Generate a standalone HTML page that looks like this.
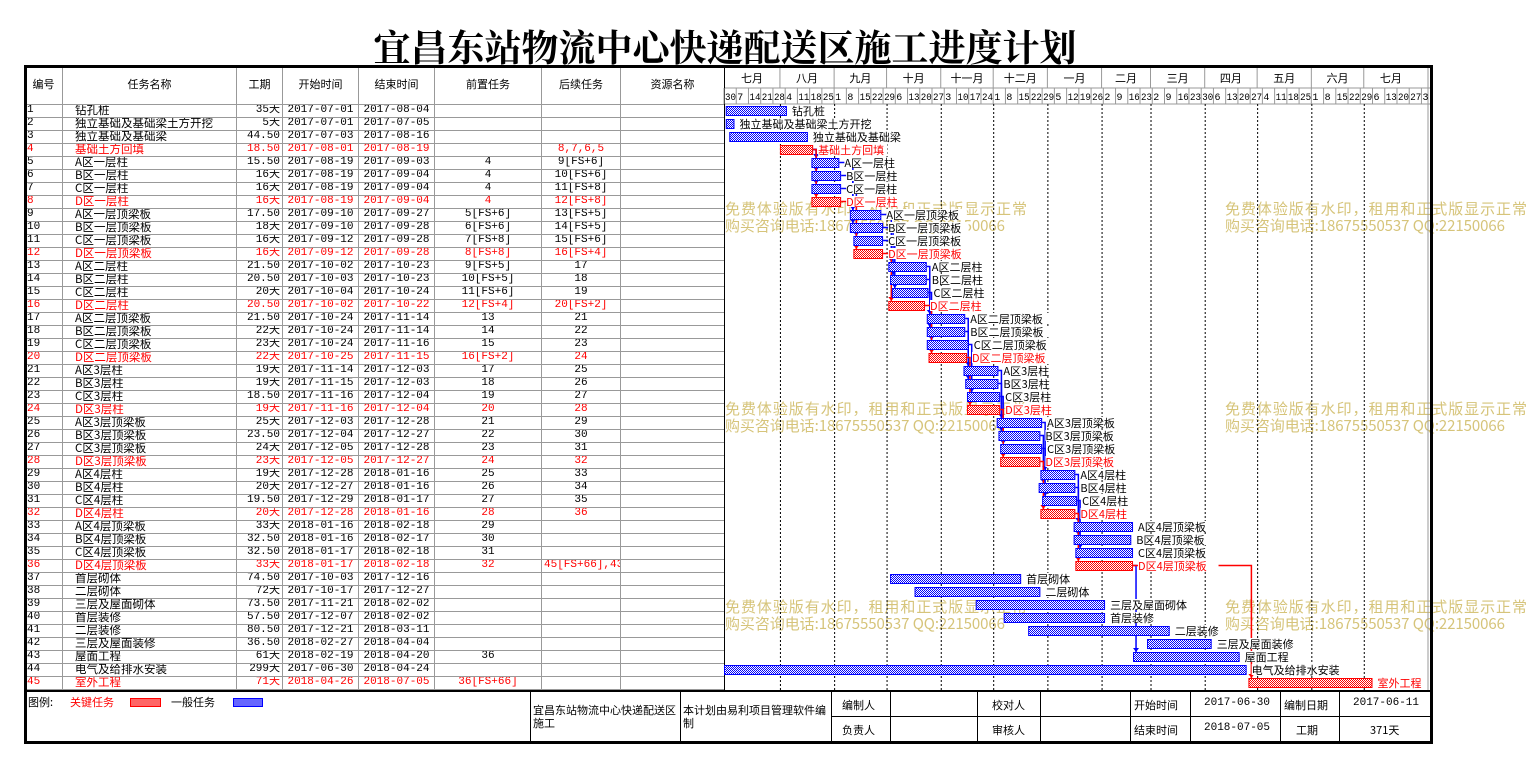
<!DOCTYPE html>
<html><head><meta charset="utf-8">
<style>
*{margin:0;padding:0;box-sizing:border-box}
body{width:1528px;height:766px;background:#fff;position:relative;overflow:hidden;font-family:"Liberation Mono","Noto Sans CJK SC",monospace;font-size:11px;color:#000}
#title{position:absolute;left:0;width:1450px;top:18px;text-align:center;font-family:"Liberation Serif","Noto Serif CJK SC",serif;font-weight:bold;font-size:37px}
#frame{position:absolute;left:24px;top:65px;width:1409px;height:679px;border:3px solid #000}
table#t{position:absolute;left:24px;top:66px;width:700px;border-collapse:collapse;table-layout:fixed}
#t td{border:1px solid #999;height:13px;line-height:11px;padding:0 2px;white-space:nowrap;overflow:hidden;font-size:11px;vertical-align:middle}
#t tr.h td{height:38px;text-align:center;font-family:"Noto Sans CJK SC",sans-serif;font-size:11px;border-top:none}
#t td.n{padding-left:12px;font-family:"Noto Sans CJK SC",sans-serif;font-size:11.5px;line-height:11px}
#t td.c{text-align:center}
#t td.r{text-align:right}
#t tr.red td{color:#f00}
svg{position:absolute;left:0;top:0}
#foot{position:absolute;left:24px;top:690px;width:1408px;height:52px;border-top:2px solid #000;font-family:"Noto Sans CJK SC",sans-serif;font-size:11px}
.f{position:absolute;border-left:1px solid #000;}
.fh{position:absolute;border-top:1px solid #000}
.ft{position:absolute;white-space:nowrap}
</style></head><body>
<div id="title">宜昌东站物流中心快递配送区施工进度计划</div>
<table id="t">
<colgroup><col style="width:38px"><col style="width:174px"><col style="width:46px"><col style="width:76px"><col style="width:76px"><col style="width:107px"><col style="width:79px"><col style="width:104px"></colgroup>
<tr class="h"><td>编号</td><td>任务名称</td><td>工期</td><td>开始时间</td><td>结束时间</td><td>前置任务</td><td>后续任务</td><td>资源名称</td></tr>
<tr><td>1</td><td class="n">钻孔桩</td><td class="r">35天</td><td class="c">2017-07-01</td><td class="c">2017-08-04</td><td class="c"></td><td class="c"></td><td></td></tr>
<tr><td>2</td><td class="n">独立基础及基础梁土方开挖</td><td class="r">5天</td><td class="c">2017-07-01</td><td class="c">2017-07-05</td><td class="c"></td><td class="c"></td><td></td></tr>
<tr><td>3</td><td class="n">独立基础及基础梁</td><td class="r">44.50</td><td class="c">2017-07-03</td><td class="c">2017-08-16</td><td class="c"></td><td class="c"></td><td></td></tr>
<tr class="red"><td>4</td><td class="n">基础土方回填</td><td class="r">18.50</td><td class="c">2017-08-01</td><td class="c">2017-08-19</td><td class="c"></td><td class="c">8,7,6,5</td><td></td></tr>
<tr><td>5</td><td class="n">A区一层柱</td><td class="r">15.50</td><td class="c">2017-08-19</td><td class="c">2017-09-03</td><td class="c">4</td><td class="c">9[FS+6]</td><td></td></tr>
<tr><td>6</td><td class="n">B区一层柱</td><td class="r">16天</td><td class="c">2017-08-19</td><td class="c">2017-09-04</td><td class="c">4</td><td class="c">10[FS+6]</td><td></td></tr>
<tr><td>7</td><td class="n">C区一层柱</td><td class="r">16天</td><td class="c">2017-08-19</td><td class="c">2017-09-04</td><td class="c">4</td><td class="c">11[FS+8]</td><td></td></tr>
<tr class="red"><td>8</td><td class="n">D区一层柱</td><td class="r">16天</td><td class="c">2017-08-19</td><td class="c">2017-09-04</td><td class="c">4</td><td class="c">12[FS+8]</td><td></td></tr>
<tr><td>9</td><td class="n">A区一层顶梁板</td><td class="r">17.50</td><td class="c">2017-09-10</td><td class="c">2017-09-27</td><td class="c">5[FS+6]</td><td class="c">13[FS+5]</td><td></td></tr>
<tr><td>10</td><td class="n">B区一层顶梁板</td><td class="r">18天</td><td class="c">2017-09-10</td><td class="c">2017-09-28</td><td class="c">6[FS+6]</td><td class="c">14[FS+5]</td><td></td></tr>
<tr><td>11</td><td class="n">C区一层顶梁板</td><td class="r">16天</td><td class="c">2017-09-12</td><td class="c">2017-09-28</td><td class="c">7[FS+8]</td><td class="c">15[FS+6]</td><td></td></tr>
<tr class="red"><td>12</td><td class="n">D区一层顶梁板</td><td class="r">16天</td><td class="c">2017-09-12</td><td class="c">2017-09-28</td><td class="c">8[FS+8]</td><td class="c">16[FS+4]</td><td></td></tr>
<tr><td>13</td><td class="n">A区二层柱</td><td class="r">21.50</td><td class="c">2017-10-02</td><td class="c">2017-10-23</td><td class="c">9[FS+5]</td><td class="c">17</td><td></td></tr>
<tr><td>14</td><td class="n">B区二层柱</td><td class="r">20.50</td><td class="c">2017-10-03</td><td class="c">2017-10-23</td><td class="c">10[FS+5]</td><td class="c">18</td><td></td></tr>
<tr><td>15</td><td class="n">C区二层柱</td><td class="r">20天</td><td class="c">2017-10-04</td><td class="c">2017-10-24</td><td class="c">11[FS+6]</td><td class="c">19</td><td></td></tr>
<tr class="red"><td>16</td><td class="n">D区二层柱</td><td class="r">20.50</td><td class="c">2017-10-02</td><td class="c">2017-10-22</td><td class="c">12[FS+4]</td><td class="c">20[FS+2]</td><td></td></tr>
<tr><td>17</td><td class="n">A区二层顶梁板</td><td class="r">21.50</td><td class="c">2017-10-24</td><td class="c">2017-11-14</td><td class="c">13</td><td class="c">21</td><td></td></tr>
<tr><td>18</td><td class="n">B区二层顶梁板</td><td class="r">22天</td><td class="c">2017-10-24</td><td class="c">2017-11-14</td><td class="c">14</td><td class="c">22</td><td></td></tr>
<tr><td>19</td><td class="n">C区二层顶梁板</td><td class="r">23天</td><td class="c">2017-10-24</td><td class="c">2017-11-16</td><td class="c">15</td><td class="c">23</td><td></td></tr>
<tr class="red"><td>20</td><td class="n">D区二层顶梁板</td><td class="r">22天</td><td class="c">2017-10-25</td><td class="c">2017-11-15</td><td class="c">16[FS+2]</td><td class="c">24</td><td></td></tr>
<tr><td>21</td><td class="n">A区3层柱</td><td class="r">19天</td><td class="c">2017-11-14</td><td class="c">2017-12-03</td><td class="c">17</td><td class="c">25</td><td></td></tr>
<tr><td>22</td><td class="n">B区3层柱</td><td class="r">19天</td><td class="c">2017-11-15</td><td class="c">2017-12-03</td><td class="c">18</td><td class="c">26</td><td></td></tr>
<tr><td>23</td><td class="n">C区3层柱</td><td class="r">18.50</td><td class="c">2017-11-16</td><td class="c">2017-12-04</td><td class="c">19</td><td class="c">27</td><td></td></tr>
<tr class="red"><td>24</td><td class="n">D区3层柱</td><td class="r">19天</td><td class="c">2017-11-16</td><td class="c">2017-12-04</td><td class="c">20</td><td class="c">28</td><td></td></tr>
<tr><td>25</td><td class="n">A区3层顶梁板</td><td class="r">25天</td><td class="c">2017-12-03</td><td class="c">2017-12-28</td><td class="c">21</td><td class="c">29</td><td></td></tr>
<tr><td>26</td><td class="n">B区3层顶梁板</td><td class="r">23.50</td><td class="c">2017-12-04</td><td class="c">2017-12-27</td><td class="c">22</td><td class="c">30</td><td></td></tr>
<tr><td>27</td><td class="n">C区3层顶梁板</td><td class="r">24天</td><td class="c">2017-12-05</td><td class="c">2017-12-28</td><td class="c">23</td><td class="c">31</td><td></td></tr>
<tr class="red"><td>28</td><td class="n">D区3层顶梁板</td><td class="r">23天</td><td class="c">2017-12-05</td><td class="c">2017-12-27</td><td class="c">24</td><td class="c">32</td><td></td></tr>
<tr><td>29</td><td class="n">A区4层柱</td><td class="r">19天</td><td class="c">2017-12-28</td><td class="c">2018-01-16</td><td class="c">25</td><td class="c">33</td><td></td></tr>
<tr><td>30</td><td class="n">B区4层柱</td><td class="r">20天</td><td class="c">2017-12-27</td><td class="c">2018-01-16</td><td class="c">26</td><td class="c">34</td><td></td></tr>
<tr><td>31</td><td class="n">C区4层柱</td><td class="r">19.50</td><td class="c">2017-12-29</td><td class="c">2018-01-17</td><td class="c">27</td><td class="c">35</td><td></td></tr>
<tr class="red"><td>32</td><td class="n">D区4层柱</td><td class="r">20天</td><td class="c">2017-12-28</td><td class="c">2018-01-16</td><td class="c">28</td><td class="c">36</td><td></td></tr>
<tr><td>33</td><td class="n">A区4层顶梁板</td><td class="r">33天</td><td class="c">2018-01-16</td><td class="c">2018-02-18</td><td class="c">29</td><td class="c"></td><td></td></tr>
<tr><td>34</td><td class="n">B区4层顶梁板</td><td class="r">32.50</td><td class="c">2018-01-16</td><td class="c">2018-02-17</td><td class="c">30</td><td class="c"></td><td></td></tr>
<tr><td>35</td><td class="n">C区4层顶梁板</td><td class="r">32.50</td><td class="c">2018-01-17</td><td class="c">2018-02-18</td><td class="c">31</td><td class="c"></td><td></td></tr>
<tr class="red"><td>36</td><td class="n">D区4层顶梁板</td><td class="r">33天</td><td class="c">2018-01-17</td><td class="c">2018-02-18</td><td class="c">32</td><td class="c">45[FS+66],43</td><td></td></tr>
<tr><td>37</td><td class="n">首层砌体</td><td class="r">74.50</td><td class="c">2017-10-03</td><td class="c">2017-12-16</td><td class="c"></td><td class="c"></td><td></td></tr>
<tr><td>38</td><td class="n">二层砌体</td><td class="r">72天</td><td class="c">2017-10-17</td><td class="c">2017-12-27</td><td class="c"></td><td class="c"></td><td></td></tr>
<tr><td>39</td><td class="n">三层及屋面砌体</td><td class="r">73.50</td><td class="c">2017-11-21</td><td class="c">2018-02-02</td><td class="c"></td><td class="c"></td><td></td></tr>
<tr><td>40</td><td class="n">首层装修</td><td class="r">57.50</td><td class="c">2017-12-07</td><td class="c">2018-02-02</td><td class="c"></td><td class="c"></td><td></td></tr>
<tr><td>41</td><td class="n">二层装修</td><td class="r">80.50</td><td class="c">2017-12-21</td><td class="c">2018-03-11</td><td class="c"></td><td class="c"></td><td></td></tr>
<tr><td>42</td><td class="n">三层及屋面装修</td><td class="r">36.50</td><td class="c">2018-02-27</td><td class="c">2018-04-04</td><td class="c"></td><td class="c"></td><td></td></tr>
<tr><td>43</td><td class="n">屋面工程</td><td class="r">61天</td><td class="c">2018-02-19</td><td class="c">2018-04-20</td><td class="c">36</td><td class="c"></td><td></td></tr>
<tr><td>44</td><td class="n">电气及给排水安装</td><td class="r">299天</td><td class="c">2017-06-30</td><td class="c">2018-04-24</td><td class="c"></td><td class="c"></td><td></td></tr>
<tr class="red"><td>45</td><td class="n">室外工程</td><td class="r">71天</td><td class="c">2018-04-26</td><td class="c">2018-07-05</td><td class="c">36[FS+66]</td><td class="c"></td><td></td></tr>
</table>
<svg id="g" width="1528" height="766" xmlns="http://www.w3.org/2000/svg" font-family="Noto Sans CJK SC, sans-serif">
<defs>
<pattern id="pb" width="2" height="2" patternUnits="userSpaceOnUse"><rect width="2" height="2" fill="#fff"/><rect width="1" height="1" fill="#00f"/><rect x="1" y="1" width="1" height="1" fill="#00f"/></pattern>
<pattern id="pr" width="2" height="2" patternUnits="userSpaceOnUse"><rect width="2" height="2" fill="#fff"/><rect width="1" height="1" fill="#f00"/><rect x="1" y="1" width="1" height="1" fill="#f00"/></pattern>
</defs>
<g fill="#d6c47a" font-size="15" lengthAdjust="spacingAndGlyphs">
<text x="725" y="214" textLength="302">免费体验版有水印，租用和正式版显示正常</text><text x="725" y="231" textLength="280">购买咨询电话:18675550537 QQ:22150066</text>
<text x="1225" y="214" textLength="302">免费体验版有水印，租用和正式版显示正常</text><text x="1225" y="231" textLength="280">购买咨询电话:18675550537 QQ:22150066</text>
<text x="725" y="414" textLength="302">免费体验版有水印，租用和正式版显示正常</text><text x="725" y="431" textLength="280">购买咨询电话:18675550537 QQ:22150066</text>
<text x="1225" y="414" textLength="302">免费体验版有水印，租用和正式版显示正常</text><text x="1225" y="431" textLength="280">购买咨询电话:18675550537 QQ:22150066</text>
<text x="725" y="612" textLength="302">免费体验版有水印，租用和正式版显示正常</text><text x="725" y="629" textLength="280">购买咨询电话:18675550537 QQ:22150066</text>
<text x="1225" y="612" textLength="302">免费体验版有水印，租用和正式版显示正常</text><text x="1225" y="629" textLength="280">购买咨询电话:18675550537 QQ:22150066</text>
</g>
<g id="grid"></g><g id="links"></g><g id="bars"></g>
</svg>
<div id="frame"></div>
<div id="foot">
<div class="ft" style="left:4px;top:2px">图例:</div>
<div class="ft" style="left:46px;top:2px;color:#f00">关键任务</div>
<div style="position:absolute;left:106px;top:6px;width:31px;height:9px;border:1px solid #f00;background:#f66"></div>
<div class="ft" style="left:147px;top:2px">一般任务</div>
<div style="position:absolute;left:209px;top:6px;width:30px;height:9px;border:1px solid #00f;background:#66f"></div>
<div class="f" style="left:506px;top:0;height:50px"></div>
<div class="f" style="left:656px;top:0;height:50px"></div>
<div class="f" style="left:807px;top:0;height:50px"></div>
<div class="f" style="left:866px;top:0;height:50px"></div>
<div class="f" style="left:953px;top:0;height:50px"></div>
<div class="f" style="left:1016px;top:0;height:50px"></div>
<div class="f" style="left:1106px;top:0;height:50px"></div>
<div class="f" style="left:1166px;top:0;height:50px"></div>
<div class="f" style="left:1256px;top:0;height:50px"></div>
<div class="f" style="left:1315px;top:0;height:50px"></div>
<div class="fh" style="left:807px;top:24px;width:601px"></div>
<div class="ft" style="left:509px;top:12px;line-height:13px;white-space:normal;width:146px">宜昌东站物流中心快递配送区施工</div>
<div class="ft" style="left:659px;top:12px;line-height:13px;white-space:normal;width:146px">本计划由易利项目管理软件编制</div>
<div class="ft" style="left:818px;top:5px">编制人</div>
<div class="ft" style="left:968px;top:5px">校对人</div>
<div class="ft" style="left:1110px;top:5px">开始时间</div>
<div class="ft" style="left:1180px;top:5px;font-family:'Liberation Mono',monospace">2017-06-30</div>
<div class="ft" style="left:1260px;top:5px">编制日期</div>
<div class="ft" style="left:1329px;top:5px;font-family:'Liberation Mono',monospace">2017-06-11</div>
<div class="ft" style="left:818px;top:30px">负责人</div>
<div class="ft" style="left:968px;top:30px">审核人</div>
<div class="ft" style="left:1110px;top:30px">结束时间</div>
<div class="ft" style="left:1180px;top:30px;font-family:'Liberation Mono',monospace">2018-07-05</div>
<div class="ft" style="left:1272px;top:30px">工期</div>
<div class="ft" style="left:1346px;top:30px">371天</div>
</div>
<script>
(function(){
var NS="http://www.w3.org/2000/svg";
function el(p,t,a,txt){var e=document.createElementNS(NS,t);for(var k in a)e.setAttribute(k,a[k]);if(txt!=null)e.textContent=txt;p.appendChild(e);return e;}
var X0=724,PX=1.748,base=Date.UTC(2017,5,30);
function dx(s){var p=s.split('-');return X0+(Date.UTC(+p[0],p[1]-1,+p[2])-base)/864e5*PX;}
var grid=document.getElementById('grid');
var months=["七月","八月","九月","十月","十一月","十二月","一月","二月","三月","四月","五月","六月","七月"];
var mstarts=["2017-06-30","2017-08-01","2017-09-01","2017-10-01","2017-11-01","2017-12-01","2018-01-01","2018-02-01","2018-03-01","2018-04-01","2018-05-01","2018-06-01","2018-07-01","2018-08-01"];
el(grid,'line',{x1:724,y1:88,x2:1432,y2:88,stroke:'#999'});
el(grid,'line',{x1:724,y1:104,x2:1432,y2:104,stroke:'#999'});
el(grid,'line',{x1:724.5,y1:66,x2:724.5,y2:690,stroke:'#000'});
el(grid,'line',{x1:1428,y1:66,x2:1428,y2:690,stroke:'#999'});
for(var i=0;i<13;i++){var a=dx(mstarts[i]),b=dx(mstarts[i+1]);
 if(i>0){el(grid,'line',{x1:a,y1:66,x2:a,y2:88,stroke:'#999'});el(grid,'line',{x1:a+.5,y1:104,x2:a+.5,y2:690,stroke:'#000','stroke-dasharray':'2,2'});}
 el(grid,'text',{x:(a+Math.min(b,1428))/2,y:82,'font-size':11,'text-anchor':'middle'},months[i]);}
for(var k=0;k<58;k++){var dt=new Date(base+k*7*864e5);var x=X0+k*7*PX;if(x>1428)break;
 el(grid,'line',{x1:x,y1:88,x2:x,y2:104,stroke:'#999'});
 var dd=dt.getUTCDate();
 el(grid,'text',{x:x+1,y:100,'font-size':10.5,'font-family':'Liberation Mono, monospace','textLength':(dd>9?11:6),'lengthAdjust':'spacingAndGlyphs'},String(dd));}
var T=[["钻孔桩","2017-07-01","2017-08-04",0,0],["独立基础及基础梁土方开挖","2017-07-01","2017-07-05",0,0],["独立基础及基础梁","2017-07-03","2017-08-16",0,0],["基础土方回填","2017-08-01","2017-08-19",0,1],
["A区一层柱","2017-08-19","2017-09-03",4,0],["B区一层柱","2017-08-19","2017-09-04",4,0],["C区一层柱","2017-08-19","2017-09-04",4,0],["D区一层柱","2017-08-19","2017-09-04",4,1],
["A区一层顶梁板","2017-09-10","2017-09-27",5,0],["B区一层顶梁板","2017-09-10","2017-09-28",6,0],["C区一层顶梁板","2017-09-12","2017-09-28",7,0],["D区一层顶梁板","2017-09-12","2017-09-28",8,1],
["A区二层柱","2017-10-02","2017-10-23",9,0],["B区二层柱","2017-10-03","2017-10-23",10,0],["C区二层柱","2017-10-04","2017-10-24",11,0],["D区二层柱","2017-10-02","2017-10-22",12,1],
["A区二层顶梁板","2017-10-24","2017-11-14",13,0],["B区二层顶梁板","2017-10-24","2017-11-14",14,0],["C区二层顶梁板","2017-10-24","2017-11-16",15,0],["D区二层顶梁板","2017-10-25","2017-11-15",16,1],
["A区3层柱","2017-11-14","2017-12-03",17,0],["B区3层柱","2017-11-15","2017-12-03",18,0],["C区3层柱","2017-11-16","2017-12-04",19,0],["D区3层柱","2017-11-16","2017-12-04",20,1],
["A区3层顶梁板","2017-12-03","2017-12-28",21,0],["B区3层顶梁板","2017-12-04","2017-12-27",22,0],["C区3层顶梁板","2017-12-05","2017-12-28",23,0],["D区3层顶梁板","2017-12-05","2017-12-27",24,1],
["A区4层柱","2017-12-28","2018-01-16",25,0],["B区4层柱","2017-12-27","2018-01-16",26,0],["C区4层柱","2017-12-29","2018-01-17",27,0],["D区4层柱","2017-12-28","2018-01-16",28,1],
["A区4层顶梁板","2018-01-16","2018-02-18",29,0],["B区4层顶梁板","2018-01-16","2018-02-17",30,0],["C区4层顶梁板","2018-01-17","2018-02-18",31,0],["D区4层顶梁板","2018-01-17","2018-02-18",32,1],
["首层砌体","2017-10-03","2017-12-16",0,0],["二层砌体","2017-10-17","2017-12-27",0,0],["三层及屋面砌体","2017-11-21","2018-02-02",0,0],["首层装修","2017-12-07","2018-02-02",0,0],
["二层装修","2017-12-21","2018-03-11",0,0],["三层及屋面装修","2018-02-27","2018-04-04",0,0],["屋面工程","2018-02-19","2018-04-20",36,0],["电气及给排水安装","2017-06-30","2018-04-24",0,0],["室外工程","2018-04-26","2018-07-05",36,1]];
var links=document.getElementById('links'),bars=document.getElementById('bars');
function rowTop(i){return 104+i*13;}
T.forEach(function(t,i){
 var xs=dx(t[1]),y=rowTop(i);
 if(t[3]){var p=T[t[3]-1],pi=t[3]-1,pe=dx(p[2])+PX,py=rowTop(pi)+6.5,c=(t[4]&&p[4])?'#f00':'#00f';
  var vx=Math.max(xs+3,pe+3);
  el(links,'polyline',{points:pe+','+py+' '+vx+','+py+' '+vx+','+(y+2),fill:'none',stroke:c,'stroke-width':1.5});
  el(links,'path',{d:'M'+(vx-3)+' '+(y-2)+'L'+(vx+3)+' '+(y-2)+'L'+vx+' '+(y+2)+'Z',fill:c});}
});
T.forEach(function(t,i){
 var xs=dx(t[1]),xe=Math.min(dx(t[2])+PX,1428),y=rowTop(i),r=t[4];
 el(bars,'rect',{x:xs+.5,y:y+2.5,width:xe-xs-1,height:9,fill:r?'url(#pr)':'url(#pb)',stroke:r?'#f00':'#00f'});
 var lx=xe+5,w=t[0].length*11.5;
 if(lx+w>1428)lx=1380;
 el(bars,'rect',{x:lx,y:y+1,width:Math.min(w,1428-lx),height:11,fill:'#fff'});
 el(bars,'text',{x:lx,y:y+11,'font-size':11,fill:r?'#f00':'#000'},t[0]);
});
})();
</script>
</body></html>
